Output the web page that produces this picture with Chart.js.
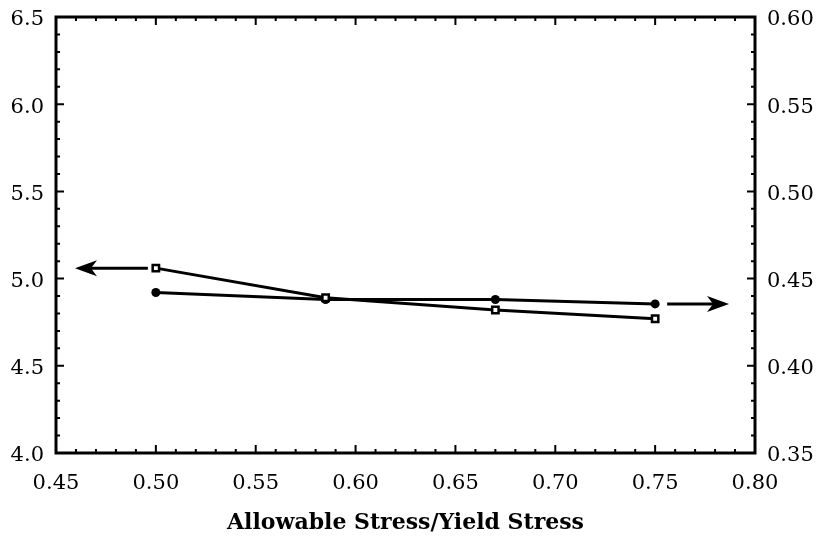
<!DOCTYPE html>
<html lang="en">
<head>
    <meta charset="UTF-8">
    <title>Allowable Stress / Yield Stress</title>
    <script src="https://cdn.jsdelivr.net/npm/chart.js"></script>
    <style>
        body { margin: 0; background: #fff; }
        #wrap { width: 822px; height: 542px; }
    </style>
</head>
<body>
    <div id="wrap"><canvas id="grafico" width="822" height="542"></canvas></div>

    <script>
        // stress ratio on x
        const stressRatio = [0.50, 0.585, 0.67, 0.75];
        // squares, read against the left axis
        const leftSeries = [5.06, 4.89, 4.82, 4.77];
        // filled circles, read against the right axis
        const rightSeries = [0.442, 0.438, 0.438, 0.4355];

        const xTicks = [0.45, 0.50, 0.55, 0.60, 0.65, 0.70, 0.75, 0.80];
        const leftTicks = [4.0, 4.5, 5.0, 5.5, 6.0, 6.5];
        const rightTicks = [0.35, 0.40, 0.45, 0.50, 0.55, 0.60];

        // arrows that point each curve at its axis (data units)
        const leftArrow = [[0.496, 5.06], [0.4595, 5.06]];
        const rightArrow = [[0.756, 0.4355], [0.787, 0.4355]];

        const serif = '"DejaVu Serif", "Liberation Serif", serif';

        function pares(xs, ys) {
            return xs.map((x, i) => ({ x: x, y: ys[i] }));
        }

        function seta(ctx, x1, y1, x2, y2) {
            const dir = Math.sign(x2 - x1);
            ctx.beginPath();
            ctx.moveTo(x1, y1);
            ctx.lineTo(x2 - dir * 12, y2);
            ctx.stroke();
            ctx.beginPath();
            ctx.moveTo(x2, y2);
            ctx.lineTo(x2 - dir * 22, y2 - 8);
            ctx.lineTo(x2 - dir * 16, y2);
            ctx.lineTo(x2 - dir * 22, y2 + 8);
            ctx.closePath();
            ctx.fill();
        }

        // no extra room for the end labels, the frame is placed by hand
        function semFolga(s) {
            s.paddingTop = 0;
            s.paddingBottom = 0;
            s.paddingLeft = 0;
            s.paddingRight = 0;
        }

        const molduraPlugin = {
            id: 'moldura',
            afterDatasetsDraw(chart) {
                const ctx = chart.ctx;
                const a = chart.chartArea;
                const sx = chart.scales.x, sy = chart.scales.y, sy1 = chart.scales.y1;
                ctx.save();
                ctx.strokeStyle = '#000';
                ctx.fillStyle = '#000';

                // ticks pointing inward
                ctx.lineWidth = 2;
                ctx.beginPath();
                for (let i = 0; i <= 35; i++) {
                    const px = sx.getPixelForValue(0.45 + i * 0.01);
                    const len = i % 5 === 0 ? 8 : 4;
                    ctx.moveTo(px, a.bottom); ctx.lineTo(px, a.bottom - len);
                    ctx.moveTo(px, a.top); ctx.lineTo(px, a.top + len);
                }
                for (let i = 0; i <= 25; i++) {
                    const py = sy.getPixelForValue(4.0 + i * 0.1);
                    const len = i % 5 === 0 ? 8 : 4;
                    ctx.moveTo(a.left, py); ctx.lineTo(a.left + len, py);
                    const qy = sy1.getPixelForValue(0.35 + i * 0.01);
                    ctx.moveTo(a.right, qy); ctx.lineTo(a.right - len, qy);
                }
                ctx.stroke();

                // frame
                ctx.lineWidth = 3;
                ctx.strokeRect(a.left, a.top, a.right - a.left, a.bottom - a.top);

                // arrows
                ctx.lineWidth = 3;
                seta(ctx,
                    sx.getPixelForValue(leftArrow[0][0]), sy.getPixelForValue(leftArrow[0][1]),
                    sx.getPixelForValue(leftArrow[1][0]), sy.getPixelForValue(leftArrow[1][1]));
                seta(ctx,
                    sx.getPixelForValue(rightArrow[0][0]), sy1.getPixelForValue(rightArrow[0][1]),
                    sx.getPixelForValue(rightArrow[1][0]), sy1.getPixelForValue(rightArrow[1][1]));
                ctx.restore();
            }
        };

        new Chart(document.getElementById('grafico'), {
            type: 'scatter',
            data: {
                datasets: [{
                    label: 'left',
                    data: pares(stressRatio, leftSeries),
                    yAxisID: 'y',
                    showLine: true,
                    borderColor: '#000',
                    borderWidth: 3,
                    pointStyle: 'rect',
                    pointRadius: 4.5,
                    pointBorderWidth: 2.5,
                    pointBackgroundColor: '#fff',
                    pointBorderColor: '#000'
                }, {
                    label: 'right',
                    data: pares(stressRatio, rightSeries),
                    yAxisID: 'y1',
                    showLine: true,
                    borderColor: '#000',
                    borderWidth: 3,
                    pointStyle: 'circle',
                    pointRadius: 4.5,
                    pointBorderWidth: 0,
                    pointBackgroundColor: '#000'
                }]
            },
            options: {
                responsive: false,
                animation: false,
                layout: { padding: { top: 17, left: 0, right: 0, bottom: 0 } },
                plugins: { legend: { display: false }, tooltip: { enabled: false } },
                scales: {
                    x: {
                        type: 'linear',
                        min: 0.45, max: 0.80,
                        afterBuildTicks: s => { s.ticks = xTicks.map(v => ({ value: v })); },
                        afterFit: s => { s.height = 89; semFolga(s); },
                        grid: { display: false, drawTicks: false },
                        border: { display: false },
                        ticks: {
                            padding: 18,
                            color: '#000',
                            font: { family: serif, size: 21 },
                            callback: v => v.toFixed(2)
                        },
                        title: {
                            display: true,
                            text: 'Allowable Stress/Yield Stress',
                            color: '#000',
                            font: { family: serif, size: 22, weight: 'bold' },
                            padding: { top: 0, bottom: 6 }
                        }
                    },
                    y: {
                        position: 'left',
                        min: 4.0, max: 6.5,
                        afterBuildTicks: s => { s.ticks = leftTicks.map(v => ({ value: v })); },
                        afterFit: s => { s.width = 56; semFolga(s); },
                        grid: { display: false, drawTicks: false },
                        border: { display: false },
                        ticks: {
                            padding: 12,
                            labelOffset: 3,
                            color: '#000',
                            font: { family: serif, size: 21 },
                            callback: v => v.toFixed(1)
                        }
                    },
                    y1: {
                        position: 'right',
                        min: 0.35, max: 0.60,
                        afterBuildTicks: s => { s.ticks = rightTicks.map(v => ({ value: v })); },
                        afterFit: s => { s.width = 67; semFolga(s); },
                        grid: { display: false, drawTicks: false },
                        border: { display: false },
                        ticks: {
                            padding: 12,
                            labelOffset: 3,
                            color: '#000',
                            font: { family: serif, size: 21 },
                            callback: v => v.toFixed(2)
                        }
                    }
                }
            },
            plugins: [molduraPlugin]
        });
    </script>
</body>
</html>
